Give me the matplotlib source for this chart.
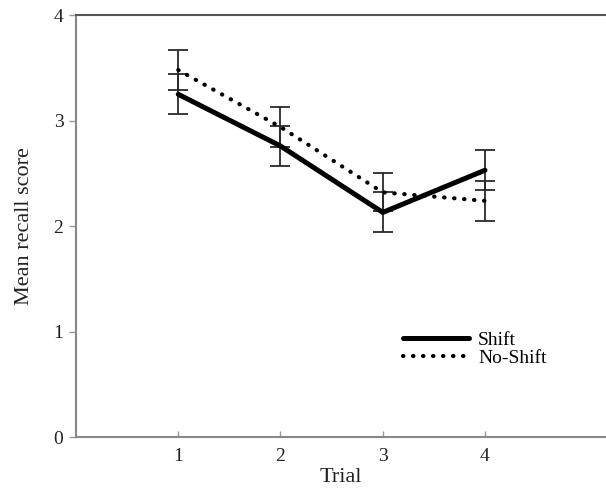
import matplotlib
matplotlib.use("Agg")
import matplotlib.pyplot as plt
from matplotlib.lines import Line2D

trials = [1, 2, 3, 4]
shift = [3.25, 2.76, 2.13, 2.53]
shift_err = [0.19, 0.19, 0.19, 0.19]
noshift = [3.48, 2.94, 2.32, 2.24]
noshift_err = [0.19, 0.19, 0.18, 0.19]
xticks = [1, 2, 3, 4]
yticks = [0, 1, 2, 3, 4]

plt.rcParams['font.family'] = ['Liberation Serif', 'DejaVu Serif']

fig = plt.figure(figsize=(6.06, 4.9), dpi=100)
ax = fig.add_axes([0.1254, 0.108, 0.874, 0.861])

dot_style = (0, (0.1, 2.3))

ax.errorbar(trials, noshift, yerr=noshift_err, fmt='none', ecolor='#2a2a2a',
            elinewidth=1.3, capsize=7, capthick=1.3, zorder=2)
ax.errorbar(trials, shift, yerr=shift_err, fmt='none', ecolor='#2a2a2a',
            elinewidth=1.3, capsize=7, capthick=1.3, zorder=2)
ax.plot(trials, shift, color='black', linewidth=3.6, solid_capstyle='round', zorder=3)
ax.plot(trials, noshift, color='black', linewidth=3.0, linestyle=dot_style,
        dash_capstyle='round', zorder=3)

ax.set_xlim(0, 5.18)
ax.set_ylim(0, 4)
ax.set_xticks(xticks)
ax.set_yticks(yticks)
ax.tick_params(axis='x', direction='in', length=4, width=1, color='#999999',
               labelsize=14, pad=8)
ax.tick_params(axis='y', direction='out', length=5, width=1, color='#999999',
               labelsize=14, pad=4)
for lab in ax.get_xticklabels() + ax.get_yticklabels():
    lab.set_color('#222222')

ax.spines['right'].set_visible(False)
ax.spines['left'].set_color('#888888')
ax.spines['left'].set_linewidth(1.5)
ax.spines['bottom'].set_color('#888888')
ax.spines['bottom'].set_linewidth(1.5)
ax.spines['top'].set_color('#555555')
ax.spines['top'].set_linewidth(1.5)

ax.set_xlabel('Trial', fontsize=16, labelpad=2, color='#222222')
ax.set_ylabel('Mean recall score', fontsize=16, labelpad=14, color='#222222')

handles = [
    Line2D([], [], color='black', linewidth=3.6, solid_capstyle='round'),
    Line2D([], [], color='black', linewidth=3.0, linestyle=dot_style,
           dash_capstyle='round'),
]
ax.legend(handles, ['Shift', 'No-Shift'], loc='upper left',
          bbox_to_anchor=(0.585, 0.292), frameon=False, fontsize=14,
          handlelength=3.4, handletextpad=0.45, labelspacing=0.0)

fig.savefig('out.png', dpi=100)
